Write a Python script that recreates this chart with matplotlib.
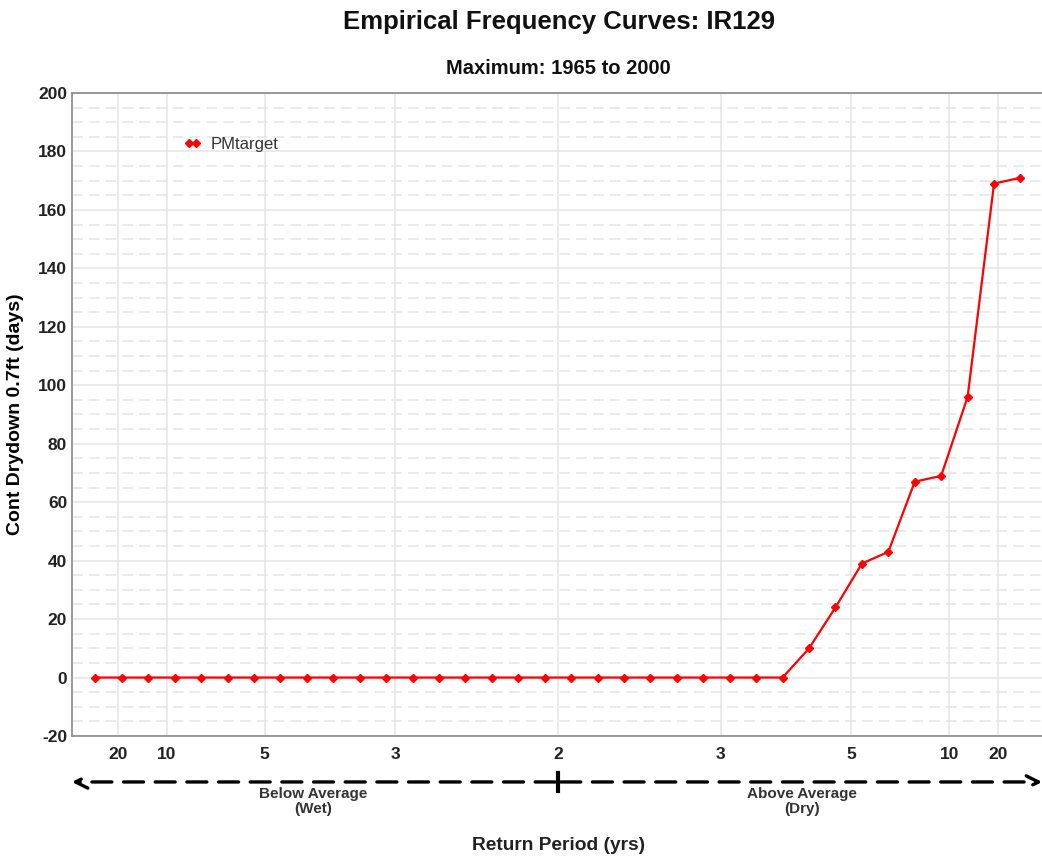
import matplotlib
matplotlib.use("Agg")
import matplotlib.pyplot as plt
import numpy as np

plt.rcParams['font.family'] = ['Liberation Sans', 'DejaVu Sans']
plt.rcParams['axes.unicode_minus'] = False

# 36 annual maxima, 1965-2000, sorted ascending
n_years = 36
drydown = [0] * 27 + [10, 24, 39, 43, 67, 69, 96, 169, 171]
# x axis is non-exceedance probability, labelled with return period
tick_probs = [0.05, 0.1, 0.2, 1 / 3, 0.5, 2 / 3, 0.8, 0.9, 0.95]
tick_labels = ['20', '10', '5', '3', '2', '3', '5', '10', '20']

plot_pos = np.arange(1, n_years + 1) / (n_years + 1)

fig = plt.figure(figsize=(10.42, 8.57), dpi=100)
ax = fig.add_axes([0.0691, 0.1412, 0.9309, 0.7503])

ax.plot(plot_pos, drydown, color='red', lw=1.6, marker='D', ms=4.5,
        label='PMtarget')

ax.set_xlim(0.003, 0.995)
ax.set_ylim(-20, 200)
ax.set_xticks(tick_probs)
ax.set_xticklabels(tick_labels)
ax.set_yticks(np.arange(-20, 201, 20))
ax.set_yticks(np.arange(-20, 201, 5), minor=True)
ax.tick_params(axis='both', which='both', length=0, labelsize=12.5)
ax.tick_params(axis='x', pad=8)
for lab in ax.get_xticklabels() + ax.get_yticklabels():
    lab.set_fontweight('bold')
    lab.set_color('#222222')

ax.grid(True, which='major', color='#e4e4e4', lw=1.1)
ax.grid(True, which='minor', axis='y', color='#e4e4e4', lw=1.1, ls=(0, (7, 4)))
ax.set_axisbelow(True)
ax.spines['right'].set_visible(False)
for side in ['left', 'bottom', 'top']:
    ax.spines[side].set_color('#888888')
    ax.spines[side].set_linewidth(1.2)

ax.set_ylabel('Cont Drydown 0.7ft (days)', fontsize=14, fontweight='bold',
              labelpad=10)

leg = ax.legend(loc='upper left', bbox_to_anchor=(0.1, 0.955), frameon=False,
                fontsize=12, handlelength=1.0, handletextpad=0.6, numpoints=2)
for t in leg.get_texts():
    t.set_color('#333333')

# wet / dry arrows under the axis
yarr = -0.0715
trans = ('data', 'axes fraction')
ax.annotate('', xy=(0.0, yarr), xytext=(0.5, yarr), xycoords=trans,
            textcoords=trans, annotation_clip=False,
            arrowprops=dict(arrowstyle='->', lw=2.4, ls=(0, (6, 3.5)),
                            color='black', mutation_scale=22))
ax.annotate('', xy=(0.998, yarr), xytext=(0.5, yarr), xycoords=trans,
            textcoords=trans, annotation_clip=False,
            arrowprops=dict(arrowstyle='->', lw=2.4, ls=(0, (6, 3.5)),
                            color='black', mutation_scale=22))
ax.plot([0.5, 0.5], [yarr - 0.014, yarr + 0.014], color='black', lw=3,
        transform=ax.get_xaxis_transform(), clip_on=False)
ax.text(0.25, yarr - 0.008, 'Below Average\n(Wet)', transform=ax.get_xaxis_transform(),
        ha='center', va='top', fontsize=11, fontweight='bold', color='#333333',
        linespacing=1.05)
ax.text(0.75, yarr - 0.008, 'Above Average\n(Dry)', transform=ax.get_xaxis_transform(),
        ha='center', va='top', fontsize=11, fontweight='bold', color='#333333',
        linespacing=1.05)

fig.text(0.5363, 1 - 845 / 857, 'Return Period (yrs)', ha='center', va='center',
         fontsize=13.8, fontweight='bold', color='#222222')
fig.text(0.5363, 1 - 22 / 857, 'Empirical Frequency Curves: IR129', ha='center',
         va='center', fontsize=18.5, fontweight='bold', color='#111111')
fig.text(0.5363, 1 - 68 / 857, 'Maximum: 1965 to 2000', ha='center', va='center',
         fontsize=14.5, fontweight='bold', color='#111111')

fig.savefig('out.png', dpi=100)
